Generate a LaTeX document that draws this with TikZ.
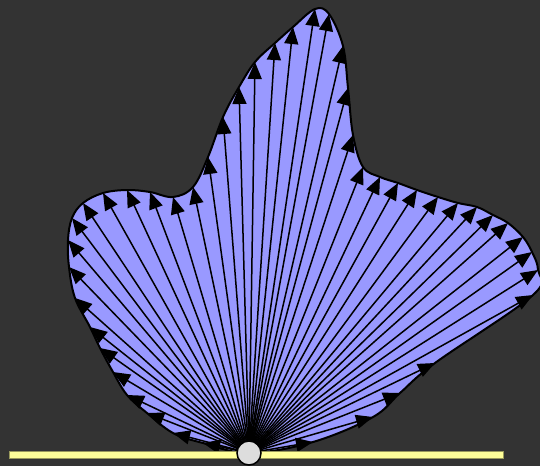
\documentclass[tikz,border=0pt]{standalone}
\usetikzlibrary{arrows.meta}
\definecolor{bg}{HTML}{333333}
\definecolor{blob}{HTML}{9999FF}
\definecolor{barfill}{HTML}{FFFF99}
\definecolor{barline}{HTML}{99995C}
\definecolor{hub}{HTML}{DDDDDD}
\begin{document}
\begin{tikzpicture}[x=1pt,y=-1pt,
  ray/.style={line width=1.5pt, -{Triangle[length=17pt,width=14pt]}},
  blobshape/.style={fill=blob, draw=black, line width=2pt},
  barstyle/.style={fill=barfill, draw=barline, line width=0.8pt},
  hubstyle/.style={fill=hub, draw=black, line width=1.5pt}]
\fill[bg] (0,0) rectangle (540,466);
\useasboundingbox (0,0) rectangle (540,466);
\clip (0,0) rectangle (540,466);
\coordinate (o) at (249,453);
\foreach \x/\y [count=\i] in {
 313/442, 373/417, 400/393, 435/363, 533/295, 538/270, 532/252, 523/237,
 508/223, 493/215, 477/207, 458/203, 438/197, 417/190, 398/183, 380/177,
 363/167, 353/135, 348/88, 343/46, 329/14, 315/9, 293/27, 275/43,
 255/62, 239/87, 223/117, 208/157, 193/187, 173/197, 150/192, 127/190,
 103/193, 83/203, 72/218, 68/240, 69/267, 75/298, 90/327, 100/348,
 113/372, 127/395, 147/413, 173/433, 203/443}
  \coordinate (p\i) at (\x,\y);
\draw[blobshape] plot[smooth cycle, tension=0.6] coordinates {
 (o) (p1) (p2) (p3) (p4) (p5) (p6) (p7) (p8) (p9) (p10) (p11) (p12) (p13)
 (p14) (p15) (p16) (p17) (p18) (p19) (p20) (p21) (p22) (p23) (p24) (p25)
 (p26) (p27) (p28) (p29) (p30) (p31) (p32) (p33) (p34) (p35) (p36) (p37)
 (p38) (p39) (p40) (p41) (p42) (p43) (p44) (p45)};
\foreach \i in {1,...,45} \draw[ray] (o) -- (p\i);
\node[barstyle, minimum width=494pt, minimum height=7pt, inner sep=0pt, anchor=west] (bar) at (9,454.5) {};
\node[hubstyle, circle, minimum size=24pt, inner sep=0pt] (hub) at (o) {};
\end{tikzpicture}
\end{document}
